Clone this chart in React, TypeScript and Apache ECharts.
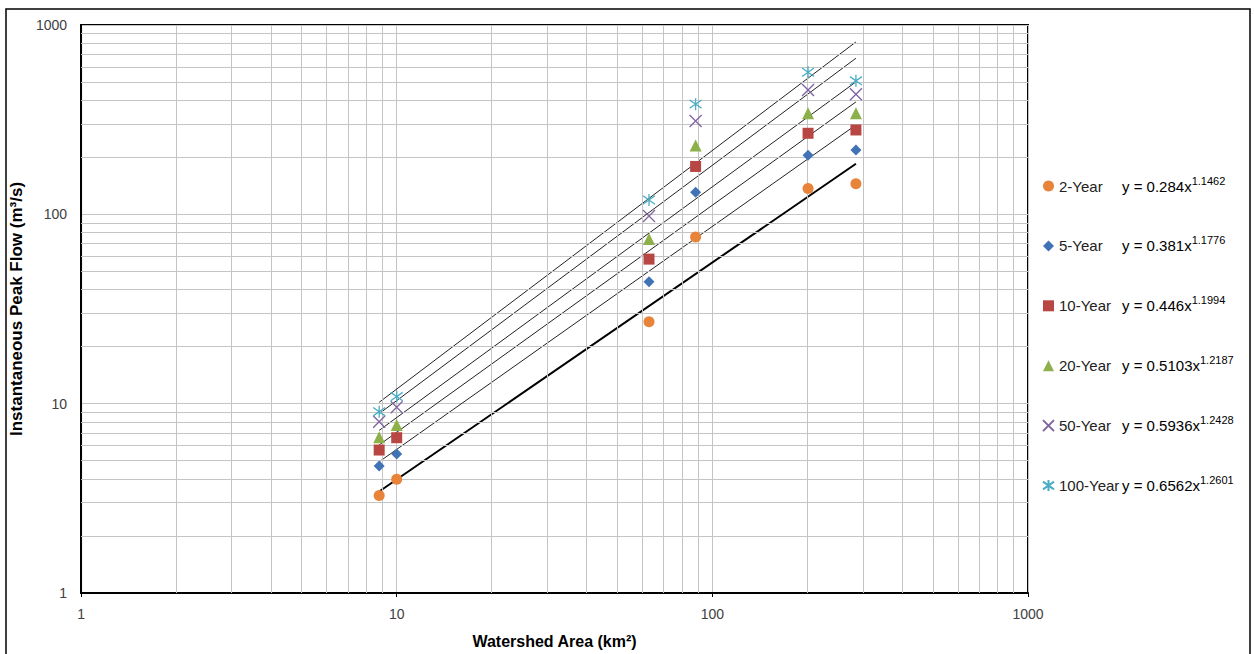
import React, { useEffect, useRef } from "react";
import * as echarts from "echarts";

const areas = [8.8, 10.0, 63, 88.5, 201, 285];
const seriesNames = ["2-Year", "5-Year", "10-Year", "20-Year", "50-Year", "100-Year"];
const flow2 = [3.27, 3.99, 27.1, 76, 137, 145];
const flow5 = [4.69, 5.42, 44, 131, 205, 219];
const flow10 = [5.69, 6.61, 58, 179, 268, 279];
const flow20 = [6.64, 7.72, 74, 231, 342, 342];
const flow50 = [8.03, 9.57, 98, 311, 454, 431];
const flow100 = [9.07, 10.9, 119, 382, 563, 507];
const trendA = ["0.284", "0.381", "0.446", "0.5103", "0.5936", "0.6562"];
const trendB = ["1.1462", "1.1776", "1.1994", "1.2187", "1.2428", "1.2601"];
const axisTicks = [1, 10, 100, 1000];

const allFlows = [flow2, flow5, flow10, flow20, flow50, flow100];
const colors = ["#E8833A", "#3F73B5", "#B84744", "#8DB04A", "#8064A2", "#4BACC6"];
const symbols = [
  "circle",
  "diamond",
  "rect",
  "triangle",
  "path://M0,0L10,10M10,0L0,10",
  "path://M5,0L5,10M0,1.5L10,8.5M10,1.5L0,8.5",
];
const symbolSizes = [11, 11, 11, 12, 12, 12];

export default function App() {
  const ref = useRef<HTMLDivElement>(null);
  useEffect(() => {
    if (!ref.current) return;
    const chart = echarts.init(ref.current, null, { renderer: "svg" });

    const minorValues: number[] = [];
    for (const d of [1, 10, 100]) for (let k = 2; k <= 9; k++) minorValues.push(d * k);

    const xMin = Math.min(...areas);
    const xMax = Math.max(...areas);

    const scatterSeries = seriesNames.map((name, i) => {
      const isStroke = i >= 4;
      return {
        name,
        type: "scatter",
        symbol: symbols[i],
        symbolSize: symbolSizes[i],
        data: areas.map((x, j) => [x, allFlows[i][j]]),
        itemStyle: isStroke
          ? { color: "rgba(0,0,0,0)", borderColor: colors[i], borderWidth: 1.3, opacity: 1 }
          : { color: colors[i], opacity: 1 },
        z: 5,
      };
    });

    const trendSeries = seriesNames.map((name, i) => {
      const a = parseFloat(trendA[i]);
      const b = parseFloat(trendB[i]);
      return {
        name: name + " trend",
        type: "line",
        data: [
          [xMin, a * Math.pow(xMin, b)],
          [xMax, a * Math.pow(xMax, b)],
        ],
        showSymbol: false,
        symbol: "none",
        silent: true,
        lineStyle: { color: i === 0 ? "#000" : "#222", width: i === 0 ? 2 : 1 },
        z: 4,
      };
    });

    const gridSeries = {
      name: "minor-grid",
      type: "line",
      data: [],
      silent: true,
      markLine: {
        silent: true,
        symbol: ["none", "none"],
        label: { show: false },
        lineStyle: { color: "#C4C4C4", width: 1, type: "solid" },
        emphasis: { disabled: true },
        data: [
          ...minorValues.map((v) => ({ xAxis: v })),
          ...minorValues.map((v) => ({ yAxis: v })),
        ],
      },
      z: 1,
    };

    chart.setOption({
      animation: false,
      backgroundColor: "#fff",
      grid: {
        left: 77,
        top: 25,
        width: 951,
        height: 568,
        show: true,
        borderColor: "#000",
        borderWidth: 2,
        backgroundColor: "transparent",
      },
      xAxis: {
        type: "log",
        logBase: 10,
        min: axisTicks[0],
        max: axisTicks[axisTicks.length - 1],
        name: "Watershed Area (km²)",
        nameLocation: "middle",
        nameGap: 40,
        nameTextStyle: { fontFamily: "Liberation Sans", fontWeight: "bold", fontSize: 16, color: "#000" },
        axisLine: { show: true, lineStyle: { color: "#000", width: 2 } },
        axisTick: { show: true, length: 4, lineStyle: { color: "#000" } },
        axisLabel: {
          fontFamily: "Liberation Sans Narrow, Liberation Sans",
          fontSize: 14,
          color: "#404040",
          margin: 14,
          formatter: (v: number) => String(v),
        },
        splitLine: { show: true, lineStyle: { color: "#C4C4C4", width: 1 } },
      },
      yAxis: {
        type: "log",
        logBase: 10,
        min: axisTicks[0],
        max: axisTicks[axisTicks.length - 1],
        name: "Instantaneous Peak Flow (m³/s)",
        nameLocation: "middle",
        nameGap: 45,
        nameTextStyle: { fontFamily: "Liberation Sans", fontWeight: "bold", fontSize: 17, color: "#000" },
        axisLine: { show: true, lineStyle: { color: "#000", width: 2 } },
        axisTick: { show: false },
        axisLabel: {
          fontFamily: "Liberation Sans",
          fontSize: 14,
          color: "#404040",
          margin: 14,
          formatter: (v: number) => String(v),
        },
        splitLine: { show: true, lineStyle: { color: "#C4C4C4", width: 1 } },
      },
      legend: {
        orient: "vertical",
        left: 1037,
        top: 170,
        itemGap: 41.4,
        itemWidth: 11,
        itemHeight: 11,
        data: seriesNames,
        selectedMode: false,
        formatter: (name: string) => {
          const i = seriesNames.indexOf(name);
          return `{n|${name}}{e|y = ${trendA[i]}x}{s|${trendB[i]}}`;
        },
        textStyle: {
          color: "#000",
          fontFamily: "Liberation Sans",
          rich: {
            n: { fontSize: 15, width: 63, lineHeight: 22, fontFamily: "Liberation Sans", color: "#222" },
            e: { fontSize: 15, lineHeight: 22, fontFamily: "Liberation Sans", color: "#000" },
            s: { fontSize: 11, lineHeight: 12, verticalAlign: "top", fontFamily: "Liberation Sans", color: "#000" },
          },
        },
      },
      graphic: [
        {
          type: "rect",
          shape: { x: 6, y: 9, width: 1244, height: 660 },
          style: { fill: "none", stroke: "#000", lineWidth: 1.5 },
          silent: true,
          z: 100,
        },
      ],
      series: [gridSeries, ...trendSeries, ...scatterSeries],
    });

    return () => chart.dispose();
  }, []);

  return (
    <div
      ref={ref}
      style={{ position: "fixed", left: 0, top: 0, width: 1254, height: 654, background: "#fff" }}
    />
  );
}
